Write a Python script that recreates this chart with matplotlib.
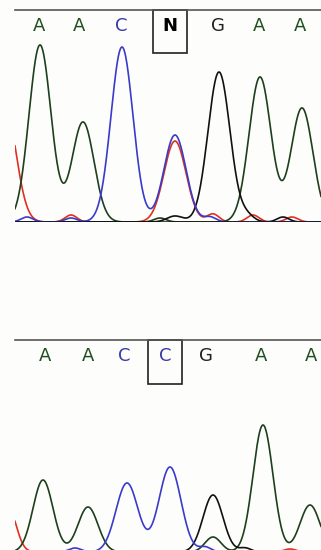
import numpy as np
import matplotlib
matplotlib.use("Agg")
import matplotlib.pyplot as plt
from matplotlib.patches import Rectangle

# base calls shown over each trace
top_bases = ["A", "A", "C", "N", "G", "A", "A"]
top_base_x = [39, 79, 121, 170, 218, 259, 300]
bot_bases = ["A", "A", "C", "C", "G", "A", "A"]
bot_base_x = [45, 88, 124, 165, 206, 261, 311]

# peaks per channel: (scan position, height, width)
top_A = [(40, 177, 11), (83, 100, 11), (160, 4, 6), (260, 145, 11), (302, 114, 11)]
top_C = [(27, 5, 6), (71, 4, 6), (122, 175, 11), (175, 87, 11), (210, 5, 6)]
top_G = [(175, 6, 8), (219, 150, 11), (247, 6, 7), (283, 5, 6)]
top_T = [(5, 115, 11), (71, 7, 6), (175, 81, 11), (213, 8, 6), (253, 7, 6), (292, 5, 6)]

bot_A = [(43, 72, 10), (88, 45, 10), (213, 15, 8), (263, 127, 10), (310, 47, 10)]
bot_C = [(75, 4, 6), (127, 69, 11), (170, 85, 11), (205, 5, 6)]
bot_G = [(213, 57, 10), (245, 4, 6)]
bot_T = [(8, 45, 8), (290, 3, 6)]

colors = {"A": "#1d3f1d", "C": "#3a3acb", "G": "#111111", "T": "#e03020"}
base_color = {"A": "#1f4f1f", "C": "#3a3aa8", "G": "#222222", "N": "#000000"}


def trace(x, peaks):
    y = np.zeros_like(x)
    for pos, h, w in peaks:
        y += h * np.exp(-(x - pos) ** 2 / (2 * w ** 2))
    return y


fig = plt.figure(figsize=(3.21, 5.5), dpi=100)
W, H = 321, 550

x = np.linspace(15, 321, 1500)


def panel(top_px, base_px, chans, bases, base_x, box_i, box_y0):
    ax = fig.add_axes([15 / W, (H - base_px) / H, 306 / W, (base_px - top_px) / H])
    ax.set_xlim(15, 321)
    ax.set_ylim(0, base_px - top_px)
    ax.set_axis_off()
    for ch, peaks in chans:
        ax.plot(x, trace(x, peaks), color=colors[ch], lw=1.2, clip_on=True)
    ax.axhline(0, color="#111111", lw=1.8)
    ax.axhline(base_px - top_px, color="#555555", lw=1.2, clip_on=False)
    for b, bx in zip(bases, base_x):
        ax.text(bx, base_px - top_px - 16, b, ha="center", va="center",
                fontsize=13, color=base_color[b],
                fontweight="bold" if b == "N" else "normal",
                family="DejaVu Sans")
    bx = base_x[box_i]
    ax.add_patch(Rectangle((bx - 17, box_y0), 34, base_px - top_px - box_y0,
                           fill=False, ec="#222222", lw=1.2, clip_on=False))
    return ax


panel(10, 222, [("T", top_T), ("A", top_A), ("G", top_G), ("C", top_C)],
      top_bases, top_base_x, 3, 169)
panel(340, 552, [("T", bot_T), ("A", bot_A), ("G", bot_G), ("C", bot_C)],
      bot_bases, bot_base_x, 3, 168)

fig.savefig("out.png", dpi=100, facecolor="#fdfdfb")
